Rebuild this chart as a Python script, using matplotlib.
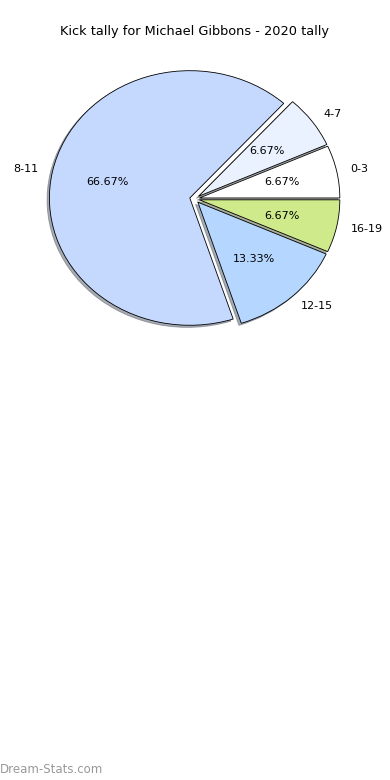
import matplotlib
matplotlib.use('Agg')
import matplotlib.pyplot as plt

labels = ['0-3', '4-7', '8-11', '12-15', '16-19']
counts = [1, 1, 10, 2, 1]
colors = ['#ffffff', '#ebf2ff', '#c5d9ff', '#b5d6ff', '#ceea8a']
explode = [0.035, 0.035, 0.035, 0.035, 0.035]

fig = plt.figure(figsize=(3.9, 7.8), dpi=100)
ax = fig.add_axes([0.049, 0.541, 0.9, 0.408])
ax.pie(counts, labels=labels, colors=colors, explode=explode, autopct='%.2f%%',
       shadow={'ox': -0.012, 'oy': -0.012, 'shade': 0.6}, startangle=0, counterclock=True,
       wedgeprops={'edgecolor': 'black', 'linewidth': 0.6},
       textprops={'fontsize': 8})
ax.set_aspect('auto')
ax.set_xlim(-1.25, 1.25)
ax.set_ylim(-1.25, 1.25)
ax.set_title('Kick tally for Michael Gibbons - 2020 tally', fontsize=9.3, pad=3.5)

fig.text(0.0, 0.005, 'Dream-Stats.com', fontsize=8.5, color='#999999', ha='left', va='bottom')
fig.savefig('out.png', dpi=100)
